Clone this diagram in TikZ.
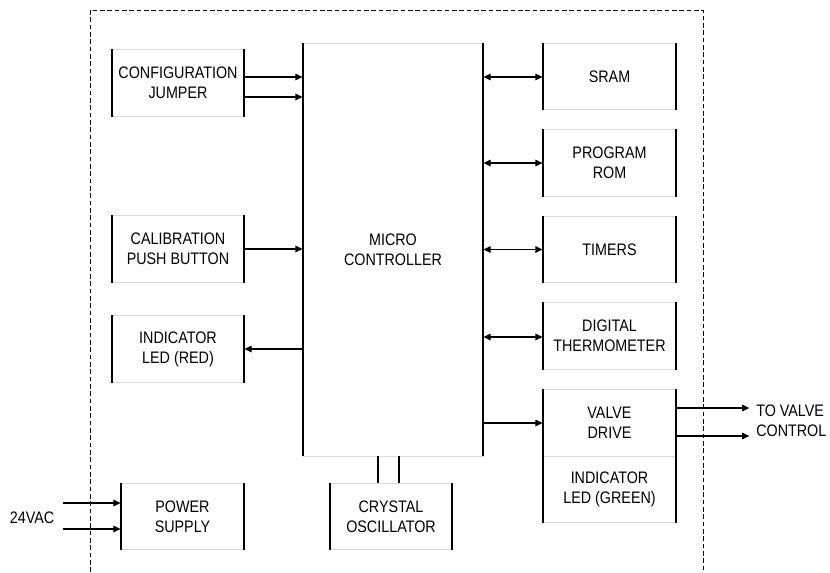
\documentclass[tikz,border=0pt]{standalone}
\usepackage{fontspec}
\setmainfont{Liberation Sans}[FakeStretch=0.86]
\usetikzlibrary{arrows.meta}

\tikzset{
  blk/.style={draw=black!15, line width=0.6pt, align=center, inner sep=0pt,
    minimum width=99pt, minimum height=50pt,
    append after command={
      (\tikzlastnode.north west) edge[draw=black, line width=1.5pt] (\tikzlastnode.south west)
      (\tikzlastnode.north east) edge[draw=black, line width=1.5pt] (\tikzlastnode.south east)}},
  wire/.style={line width=0.8pt},
}

\begin{document}
\begin{tikzpicture}[x=0.75pt,y=-0.75pt,font=\fontsize{12.5}{15}\selectfont,
  >={Triangle[length=5.5pt,width=5pt]}]
\useasboundingbox (0,0) rectangle (830,572);
\draw[dashed,line width=0.75pt,dash pattern=on 3.5pt off 2pt] (90,572) |- (703,10) -- (703,572);
% left column
\node[blk] (cfg) at (178,83) {CONFIGURATION\\JUMPER};
\node[blk] (cal) at (178,249) {CALIBRATION\\PUSH BUTTON};
\node[blk] (red) at (178,349) {INDICATOR\\LED (RED)};
\node[blk,minimum width=92.25pt] (psu) at (182.5,516.5) {POWER\\SUPPLY};
% middle
\node[blk,minimum width=135pt,minimum height=309.75pt] (mcu) at (393,249.5) {MICRO\\CONTROLLER};
\node[blk,minimum width=91.5pt] (xtal) at (391,516.5) {CRYSTAL\\OSCILLATOR};
% right column
\node[blk,minimum width=99.75pt] (sram) at (609.5,76.5) {SRAM};
\node[blk,minimum width=99.75pt] (rom) at (609.5,163) {PROGRAM\\ROM};
\node[blk,minimum width=99.75pt] (tmr) at (609.5,249.5) {TIMERS};
\node[blk,minimum width=99.75pt] (therm) at (609.5,336) {DIGITAL\\THERMOMETER};
\node[blk,minimum width=99.75pt] (valve) at (609.5,423) {VALVE\\DRIVE};
\node[blk,minimum width=99.75pt] (green) at (609.5,489.5) {INDICATOR\\LED (GREEN)};
% outside
\node (ac) at (32,518) {24VAC};
\coordinate (ac1) at (63,503);
\coordinate (ac2) at (63,529);
\node[anchor=west,align=left,inner sep=0pt] (ctl) at (756,421) {TO VALVE\\CONTROL};
% connections
\draw[wire,->] (cfg.east |- 0,77) -- (mcu.west |- 0,77);
\draw[wire,->] (cfg.east |- 0,97) -- (mcu.west |- 0,97);
\draw[wire,->] (cal.east) -- (cal.east -| mcu.west);
\draw[wire,->] (mcu.west |- red) -- (red.east);
\draw[wire,->] (ac1) -- (ac1 -| psu.west);
\draw[wire,->] (ac2) -- (ac2 -| psu.west);
\draw[wire] (378,0 |- mcu.south) -- (378,0 |- xtal.north);
\draw[wire] (399,0 |- mcu.south) -- (399,0 |- xtal.north);
\draw[wire,<->] (mcu.east |- 0,77) -- (sram.west |- 0,77);
\draw[wire,<->] (mcu.east |- rom) -- (rom.west);
\draw[wire,<->] (mcu.east |- tmr) -- (tmr.west);
\draw[wire,<->] (mcu.east |- 0,337) -- (therm.west |- 0,337);
\draw[wire,->] (mcu.east |- valve) -- (valve.west);
\draw[wire,->] (valve.east |- 0,408) -- ([xshift=-5pt]ctl.west |- 0,408);
\draw[wire,->] (valve.east |- 0,436) -- ([xshift=-5pt]ctl.west |- 0,436);
\end{tikzpicture}
\end{document}
